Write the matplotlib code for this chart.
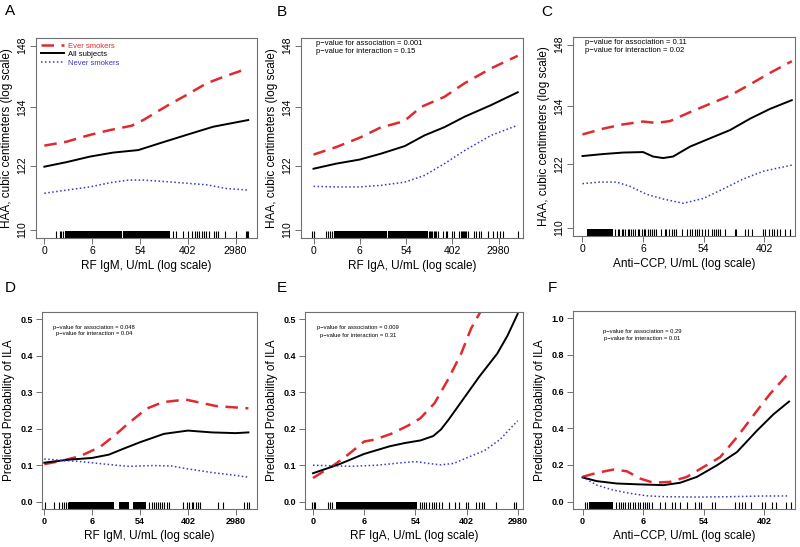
import numpy as np
import matplotlib.pyplot as plt

plt.rcParams['font.family'] = ['Liberation Sans', 'DejaVu Sans']

# x values are ln(U/mL + 1); top row y in cubic centimeters, bottom row probability
series_names = ['Ever smokers', 'All subjects', 'Never smokers']

a_red_x = [0, 0.93, 1.91, 2.75, 3.65, 4.14, 5.12, 5.95, 6.79, 7.62, 8.53]
a_red_y = [126.0, 126.8, 128.2, 129.2, 130.1, 131.3, 134.3, 136.7, 139.3, 141.0, 142.7]
a_blk_x = [0, 0.93, 1.91, 2.88, 3.93, 4.84, 5.95, 7.07, 8.53]
a_blk_y = [121.8, 122.7, 123.8, 124.6, 125.1, 126.5, 128.2, 129.9, 131.3]
a_blu_x = [0, 0.93, 1.91, 2.75, 3.51, 4.14, 5.12, 5.95, 6.79, 7.62, 8.53]
a_blu_y = [116.7, 117.3, 117.9, 118.7, 119.2, 119.2, 118.9, 118.6, 118.3, 117.6, 117.3]

b_red_x = [0, 0.98, 1.99, 2.93, 3.43, 3.93, 4.65, 5.66, 6.53, 7.68, 8.83]
b_red_y = [124.2, 125.7, 127.6, 129.8, 130.4, 131.1, 134.1, 136.3, 139.3, 142.7, 145.6]
b_blk_x = [0, 0.98, 1.99, 2.93, 3.94, 4.80, 5.66, 6.53, 7.68, 8.83]
b_blk_y = [121.4, 122.4, 123.2, 124.4, 125.9, 128.1, 129.8, 132.0, 134.5, 137.3]
b_blu_x = [0, 0.98, 1.99, 2.93, 3.94, 4.80, 5.66, 6.53, 7.68, 8.83]
b_blu_y = [118.0, 117.9, 117.9, 118.2, 118.8, 120.1, 122.4, 125.0, 128.1, 130.2]

c_red_x = [0, 0.68, 1.34, 2.0, 2.44, 2.89, 3.55, 4.21, 4.87, 5.53, 6.19, 6.91]
c_red_y = [128.0, 129.2, 130.1, 130.7, 130.4, 130.8, 132.7, 134.5, 136.3, 138.8, 141.4, 144.1]
c_blk_x = [0, 0.68, 1.34, 2.0, 2.33, 2.66, 2.99, 3.55, 4.21, 4.87, 5.53, 6.19, 6.91]
c_blk_y = [123.6, 124.0, 124.3, 124.4, 123.5, 123.2, 123.5, 125.5, 127.2, 128.9, 131.3, 133.4, 135.3]
c_blu_x = [0, 0.57, 1.12, 1.56, 2.11, 2.66, 3.33, 3.99, 4.65, 5.31, 5.97, 6.91]
c_blu_y = [118.2, 118.5, 118.5, 117.7, 116.2, 115.3, 114.5, 115.4, 117.2, 119.1, 120.6, 121.8]

d_red_x = [0, 0.8, 1.5, 2.33, 3.0, 3.43, 4.27, 4.96, 5.91, 7.2, 8.53]
d_red_y = [0.103, 0.113, 0.125, 0.150, 0.185, 0.210, 0.255, 0.273, 0.280, 0.262, 0.256]
d_blk_x = [0, 1.0, 2.0, 2.7, 3.3, 4.0, 5.0, 6.0, 7.0, 8.0, 8.53]
d_blk_y = [0.107, 0.115, 0.120, 0.129, 0.145, 0.163, 0.186, 0.195, 0.190, 0.188, 0.190]
d_blu_x = [0, 1.5, 3.0, 3.5, 4.5, 5.3, 6.0, 7.0, 8.0, 8.53]
d_blu_y = [0.117, 0.110, 0.100, 0.097, 0.099, 0.098, 0.090, 0.080, 0.072, 0.067]

e_red_x = [0, 0.85, 1.37, 2.0, 2.4, 3.05, 3.7, 4.2, 4.75, 5.27, 5.79, 6.18, 6.7]
e_red_y = [0.065, 0.102, 0.129, 0.165, 0.170, 0.186, 0.208, 0.229, 0.270, 0.334, 0.406, 0.475, 0.540]
e_blk_x = [0, 1.0, 2.0, 3.0, 3.6, 4.2, 4.7, 5.0, 5.3, 5.9, 6.5, 7.2, 7.6, 8.0]
e_blk_y = [0.078, 0.102, 0.131, 0.152, 0.161, 0.168, 0.180, 0.198, 0.225, 0.284, 0.343, 0.406, 0.455, 0.515]
e_blu_x = [0, 1.5, 2.5, 3.5, 4.0, 4.5, 5.0, 5.5, 6.0, 6.7, 7.3, 8.0]
e_blu_y = [0.100, 0.097, 0.100, 0.107, 0.110, 0.105, 0.101, 0.105, 0.120, 0.140, 0.170, 0.222]

f_red_x = [0, 0.47, 1.02, 1.46, 1.9, 2.34, 2.89, 3.44, 3.99, 4.54, 5.09, 5.75, 6.19, 6.81]
f_red_y = [0.135, 0.157, 0.175, 0.166, 0.126, 0.103, 0.108, 0.135, 0.189, 0.243, 0.351, 0.495, 0.589, 0.703]
f_blk_x = [0, 0.47, 1.13, 1.9, 2.67, 3.22, 3.77, 4.43, 5.09, 5.75, 6.3, 6.81]
f_blk_y = [0.132, 0.112, 0.099, 0.094, 0.090, 0.103, 0.135, 0.198, 0.270, 0.387, 0.477, 0.546]
f_blu_x = [0, 0.47, 1.02, 1.57, 2.12, 2.67, 3.77, 4.87, 5.97, 6.81]
f_blu_y = [0.135, 0.090, 0.063, 0.045, 0.032, 0.027, 0.025, 0.027, 0.031, 0.031]

# rug of observed values (single ticks and solid bands)
a_rug = [0.49, 0.64, 0.71, 0.78, 5.39, 5.49, 5.81, 6.03, 6.19, 6.31, 6.39, 6.47, 6.6, 6.68,
         6.78, 6.88, 7.08, 7.19, 7.28, 7.54, 8.03, 8.42, 8.47, 8.54]
a_band = [(0.88, 3.26), (3.31, 5.25)]
b_rug = [-0.05, 0.03, 0.55, 0.63, 0.72, 0.79, 5.0, 5.04, 5.08, 5.12, 5.2, 5.26, 5.30, 5.39,
         5.62, 5.71, 5.78, 5.97, 6.08, 6.3, 6.37, 6.42, 6.46, 6.5, 6.56, 6.6, 6.67, 6.96,
         7.03, 7.15, 7.25, 7.54, 7.78, 7.93, 8.08, 8.21, 8.83]
b_band = [(0.88, 3.19), (3.24, 4.94)]
c_rug = [1.08, 1.16, 1.22, 1.30, 1.35, 1.41, 1.49, 1.54, 1.61, 1.68, 1.74, 1.82, 1.88, 1.96,
         2.02, 2.07, 2.16, 2.24, 2.29, 2.37, 2.42, 2.60, 2.71, 2.76, 2.84, 2.95, 3.01, 3.08,
         3.28, 3.45, 3.56, 3.63, 3.70, 3.78, 3.85, 3.94, 4.05, 4.16, 4.27, 4.33, 4.41, 4.47,
         4.55, 4.71, 5.02, 5.07, 5.37, 5.46, 5.59, 5.96, 6.04, 6.17, 6.26, 6.33, 6.42, 6.53,
         6.70, 6.86]
c_band = [(0.14, 1.02)]
d_rug = [0.04, 0.42, 0.6, 0.74, 0.84, 0.91, 0.98, 4.39, 4.49, 4.57, 4.67, 4.75, 4.84, 4.92,
         5.02, 5.12, 5.2, 5.78, 5.95, 6.06, 6.16, 6.23, 6.34, 6.44, 6.51, 7.25, 7.46, 8.36,
         8.46, 8.54]
d_band = [(1.05, 2.93), (3.14, 3.55), (3.72, 4.25)]
e_rug = [-0.04, 0.03, 0.08, 0.57, 0.66, 0.74, 4.17, 4.25, 4.34, 4.43, 4.54, 4.64, 4.73, 4.82,
         4.93, 5.03, 5.32, 5.55, 5.71, 5.97, 6.06, 6.38, 6.49, 6.59, 6.68, 7.14, 7.85, 7.92]
e_band = [(0.9, 4.08)]
f_rug = [0.07, 0.14, 1.10, 1.19, 1.27, 1.35, 1.41, 1.49, 1.57, 1.66, 1.74, 1.82, 1.91, 1.98,
         2.05, 2.13, 2.20, 2.29, 2.57, 2.73, 2.95, 3.06, 3.23, 3.45, 3.72, 3.85, 3.92, 4.27,
         4.36, 5.04, 5.15, 5.26, 5.37, 5.54, 5.93, 6.01, 6.26, 6.39, 6.70, 6.86]
f_band = [(0.2, 1.02)]

xtick_pos = [0, 2, 4, 6, 8]
xtick_lab = ['0', '6', '54', '402', '2980']
haa_ticks = [110, 122, 134, 148]

red = '#e02a2f'
blue = '#3838c8'
frame = '#707070'

fig = plt.figure(figsize=(8, 5.47), dpi=100)

panels = [
    # letter, rect, curves, rug, band, xlabel, xlim, n xticks, letter pos (px)
    ('A', [0.045, 0.565, 0.276, 0.366], (a_red_x, a_red_y, a_blk_x, a_blk_y, a_blu_x, a_blu_y),
     a_rug, a_band, 'RF IgM, U/mL (log scale)', (-0.35, 8.89), 5, (5, 11)),
    ('B', [0.376, 0.565, 0.2775, 0.366], (b_red_x, b_red_y, b_blk_x, b_blk_y, b_blu_x, b_blu_y),
     b_rug, b_band, 'RF IgA, U/mL (log scale)', (-0.55, 9.05), 5, (277, 12)),
    ('C', [0.716, 0.5686, 0.2775, 0.364], (c_red_x, c_red_y, c_blk_x, c_blk_y, c_blu_x, c_blu_y),
     c_rug, c_band, 'Anti\u2212CCP, U/mL (log scale)', (-0.32, 7.01), 4, (541, 12)),
    ('D', [0.052, 0.0695, 0.269, 0.360], (d_red_x, d_red_y, d_blk_x, d_blk_y, d_blu_x, d_blu_y),
     d_rug, d_band, 'RF IgM, U/mL (log scale)', (-0.11, 8.88), 5, (5, 288)),
    ('E', [0.381, 0.0695, 0.2725, 0.360], (e_red_x, e_red_y, e_blk_x, e_blk_y, e_blu_x, e_blu_y),
     e_rug, e_band, 'RF IgA, U/mL (log scale)', (-0.32, 8.2), 5, (277, 288)),
    ('F', [0.716, 0.0695, 0.2775, 0.362], (f_red_x, f_red_y, f_blk_x, f_blk_y, f_blu_x, f_blu_y),
     f_rug, f_band, 'Anti\u2212CCP, U/mL (log scale)', (-0.32, 7.0), 4, (548, 288)),
]

pvals = {
    'B': ('p\u2212value for association = 0.001', 'p\u2212value for interaction = 0.15'),
    'C': ('p\u2212value for association = 0.11', 'p\u2212value for interaction = 0.02'),
    'D': ('p\u2212value for association = 0.048', 'p\u2212value for interaction = 0.04'),
    'E': ('p\u2212value for association = 0.009', 'p\u2212value for interaction = 0.31'),
    'F': ('p\u2212value for association = 0.29', 'p\u2212value for interaction = 0.01'),
}

for i, (letter, rect, cv, rug, band, xlab, xlim, nt, lpos) in enumerate(panels):
    ax = fig.add_axes(rect)
    top = i < 3
    rx, ry, kx, ky, bx, by = cv
    ax.plot(rx, ry, color=red, lw=1.8, ls=(0, (5, 3)), label=series_names[0])
    ax.plot(kx, ky, color='black', lw=1.4, label=series_names[1])
    ax.plot(bx, by, color=blue, lw=1.1, ls=(0, (1, 1.6)), label=series_names[2])

    trans = ax.get_xaxis_transform()
    ax.vlines(rug, 0, 0.035, transform=trans, color='black', lw=0.8)
    for s, e in band:
        ax.axvspan(s, e, ymin=0, ymax=0.035, color='black', lw=0)

    ax.set_xlim(*xlim)
    ax.set_xticks(xtick_pos[:nt], xtick_lab[:nt])
    ax.set_xlabel(xlab, fontsize=8.5, labelpad=3)

    if top:
        ax.set_yscale('log')
        ax.set_ylim(108.6, 149.9)
        ax.set_yticks(haa_ticks, [str(v) for v in haa_ticks])
        ax.set_yticks([], minor=True)
        ax.tick_params(axis='y', labelrotation=90)
        for t in ax.get_yticklabels():
            t.set_va('center')
        ax.set_ylabel('HAA, cubic centimeters (log scale)', fontsize=8.5, labelpad=3)
        ax.tick_params(labelsize=7.5)
    else:
        if letter == 'F':
            ax.set_ylim(-0.04, 1.04)
            ax.set_yticks([0, 0.2, 0.4, 0.6, 0.8, 1.0], ['0.0', '0.2', '0.4', '0.6', '0.8', '1.0'])
        else:
            ax.set_ylim(-0.02, 0.52)
            ax.set_yticks([0, 0.1, 0.2, 0.3, 0.4, 0.5], ['0.0', '0.1', '0.2', '0.3', '0.4', '0.5'])
        ax.set_ylabel('Predicted Probability of ILA', fontsize=8.5, labelpad=4)
        ax.tick_params(labelsize=6.5)
        for t in ax.get_xticklabels() + ax.get_yticklabels():
            t.set_fontweight('bold')

    ax.tick_params(length=4, width=0.7, color=frame, pad=2)
    for sp in ax.spines.values():
        sp.set_color(frame)
        sp.set_linewidth(0.8)

    fig.text(lpos[0] / 800, 1 - lpos[1] / 547, letter, fontsize=11, ha='left', va='center')

    if letter == 'A':
        leg = ax.legend(loc='upper left', frameon=False, fontsize=5.5, handlelength=3,
                        borderaxespad=0.2, labelspacing=0.15, handletextpad=0.6)
        for t, c in zip(leg.get_texts(), [red, 'black', blue]):
            t.set_color(c)
    elif top:
        l1, l2 = pvals[letter]
        x0 = 0.068 if letter == 'B' else 0.054
        ax.text(x0, 0.97, l1, transform=ax.transAxes, fontsize=5.5, va='center')
        ax.text(x0, 0.93, l2, transform=ax.transAxes, fontsize=5.5, va='center')
    else:
        l1, l2 = pvals[letter]
        xc = {'D': 0.244, 'E': 0.243, 'F': 0.311}[letter]
        yy = {'D': (0.924, 0.893), 'E': (0.924, 0.883), 'F': (0.894, 0.859)}[letter]
        ax.text(xc, yy[0], l1, transform=ax.transAxes, fontsize=4.2, ha='center', va='center')
        ax.text(xc, yy[1], l2, transform=ax.transAxes, fontsize=4.2, ha='center', va='center')

fig.savefig('out.png', dpi=100)
